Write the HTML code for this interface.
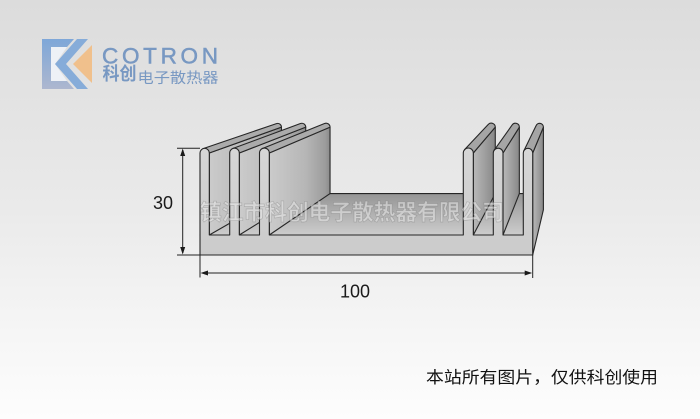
<!DOCTYPE html>
<html>
<head>
<meta charset="utf-8">
<style>
  html, body { margin:0; padding:0; width:700px; height:419px; overflow:hidden; background:#ececec; }
  svg { display:block; }
</style>
</head>
<body>
<svg width="700" height="419" viewBox="0 0 700 419" xmlns="http://www.w3.org/2000/svg">
  <defs>
    <linearGradient id="bg" x1="0" y1="0" x2="0" y2="1">
      <stop offset="0" stop-color="#dcdcdc"/>
      <stop offset="0.5" stop-color="#eaeaea"/>
      <stop offset="0.8" stop-color="#f6f6f6"/>
      <stop offset="1" stop-color="#fdfdfd"/>
    </linearGradient>
    <linearGradient id="floor" x1="0" y1="0" x2="0" y2="1">
      <stop offset="0" stop-color="#959595"/>
      <stop offset="1" stop-color="#cdcdcd"/>
    </linearGradient>
    <linearGradient id="gL" x1="0" y1="0" x2="1" y2="0">
      <stop offset="0" stop-color="#cbcbcb"/>
      <stop offset="0.6" stop-color="#b6b6b6"/>
      <stop offset="0.92" stop-color="#9c9c9c"/>
      <stop offset="1" stop-color="#8a8a8a"/>
    </linearGradient>
    <linearGradient id="gR" x1="0" y1="0" x2="1" y2="0">
      <stop offset="0" stop-color="#b9b9b9"/>
      <stop offset="1" stop-color="#878787"/>
    </linearGradient>
    <linearGradient id="front" x1="0" y1="0" x2="0" y2="1">
      <stop offset="0" stop-color="#d6d6d6"/>
      <stop offset="1" stop-color="#cbcbcb"/>
    </linearGradient>
    <linearGradient id="logoFrame" x1="0" y1="0" x2="0" y2="1">
      <stop offset="0" stop-color="#7ea7d8"/>
      <stop offset="1" stop-color="#adb7cf"/>
    </linearGradient>
  </defs>

  <rect x="0" y="0" width="700" height="419" fill="url(#bg)"/>

  <!-- Logo icon -->
  <path d="M42,39 H74 L67,47 H51 V81 H67 L74,89 H42 Z" fill="url(#logoFrame)"/>
  <path d="M51,47 H67 L55,64 L67,81 H51 Z" fill="#eef1f6"/>
  <path d="M77,39 L88,39 L66,64 L88,89 L77,89 L55,64 Z" fill="#86acd9"/>
  <path d="M92,45 L73,64 L92,83 Z" fill="#f0c08c"/>

  <!-- Logo text -->
  <text x="102" y="63.3" font-family="Liberation Sans, sans-serif" font-size="22.5" fill="#7898c2" stroke="#7898c2" stroke-width="0.5" textLength="116" lengthAdjust="spacing">COTRON</text>
  <text x="102.5" y="80" font-family="Liberation Sans, 'Noto Sans CJK SC', sans-serif" font-size="18" font-weight="bold" fill="#7898c2" textLength="34" lengthAdjust="spacingAndGlyphs">科创</text>
  <text x="137.5" y="83" font-family="Liberation Sans, 'Noto Sans CJK SC', sans-serif" font-size="14.5" fill="#7898c2" textLength="81" lengthAdjust="spacingAndGlyphs">电子散热器</text>

  <!-- Heatsink -->
  <g stroke="#262626" stroke-width="1.1" stroke-linejoin="round">
    <path d="M200,235 L532.7,235 L543.4,193.58 L273.91,193.58 Z" fill="url(#floor)"/>

    <path d="M209.3,153 L281.44,127.16 L281.44,193.58 L209.3,235 Z" fill="url(#gL)"/>
    <path d="M203.1,148.62 L276.42,123.61 A3.77,3.77 0 0 1 281.44,127.16 L209.3,153 L204.65,153 Z" fill="#ababab"/>
    <path d="M239.3,153 L305.74,127.16 L305.74,193.58 L239.3,235 Z" fill="url(#gL)"/>
    <path d="M232.78,148.52 L300.46,123.53 A3.89,3.89 0 0 1 305.74,127.16 L239.3,153 L234.5,153 Z" fill="#ababab"/>
    <path d="M269.3,153 L330.04,127.16 L330.04,193.58 L269.3,235 Z" fill="url(#gL)"/>
    <path d="M262.51,148.48 L324.54,123.5 A3.97,3.97 0 0 1 330.04,127.16 L269.3,153 L264.4,153 Z" fill="#ababab"/>
    <path d="M473.3,153 L495.28,127.16 L495.28,193.58 L473.3,235 Z" fill="url(#gR)"/>
    <path d="M464.56,149.68 L488.2,124.47 A4.05,4.05 0 0 1 495.28,127.16 L473.3,153 L468.3,153 Z" fill="#a5a5a5"/>
    <path d="M503,153 L519.34,127.16 L519.34,193.58 L503,235 Z" fill="url(#gR)"/>
    <path d="M494.12,150.31 L512.14,124.98 A3.93,3.93 0 0 1 519.34,127.16 L503,153 L498.15,153 Z" fill="#a5a5a5"/>
    <path d="M532.7,153 L543.4,127.16 L543.4,209.78 L532.7,255 Z" fill="url(#gR)"/>
    <path d="M523.71,151.08 L536.11,125.6 A3.81,3.81 0 0 1 543.4,127.16 L532.7,153 L528,153 Z" fill="#a5a5a5"/>

    <path d="M200,255 L200,153 A4.65,4.65 0 0 1 209.3,153 L209.3,235 L229.7,235 L229.7,153 A4.8,4.8 0 0 1 239.3,153 L239.3,235 L259.5,235 L259.5,153 A4.9,4.9 0 0 1 269.3,153 L269.3,235 L463.3,235 L463.3,153 A5,5 0 0 1 473.3,153 L473.3,235 L493.3,235 L493.3,153 A4.85,4.85 0 0 1 503,153 L503,235 L523.3,235 L523.3,153 A4.7,4.7 0 0 1 532.7,153 L532.7,255 Z" fill="url(#front)"/>
  </g>

  <!-- Watermark -->
  <text x="200" y="220" font-family="Liberation Sans, 'Noto Sans CJK SC', sans-serif" font-size="22" font-weight="bold" fill="rgba(232,232,232,0.55)" stroke="rgba(110,110,110,0.35)" stroke-width="0.7" textLength="304" lengthAdjust="spacingAndGlyphs">镇江市科创电子散热器有限公司</text>

  <!-- Dimension lines -->
  <g stroke="#222" stroke-width="1" fill="none">
    <line x1="177" y1="148.3" x2="200" y2="148.3"/>
    <line x1="177" y1="255" x2="200" y2="255"/>
    <line x1="182.7" y1="150" x2="182.7" y2="253"/>
    <line x1="200" y1="255" x2="200" y2="277.5"/>
    <line x1="532.7" y1="255" x2="532.7" y2="278"/>
    <line x1="202" y1="273" x2="531" y2="273"/>
  </g>
  <g fill="#1a1a1a">
    <polygon points="182.7,148.5 180.2,156 185.2,156"/>
    <polygon points="182.7,254.5 180.2,247 185.2,247"/>
    <polygon points="200.5,273 208,270.5 208,275.5"/>
    <polygon points="532.2,273 524.7,270.5 524.7,275.5"/>
  </g>

  <text x="153" y="209" font-family="Liberation Sans, sans-serif" font-size="18" fill="#1a1a1a">30</text>
  <text x="340" y="297.5" font-family="Liberation Sans, sans-serif" font-size="18" fill="#1a1a1a">100</text>

  <text x="426" y="383" font-family="Liberation Sans, 'Noto Sans CJK SC', sans-serif" font-size="16.5" fill="#111" textLength="232" lengthAdjust="spacingAndGlyphs">本站所有图片，仅供科创使用</text>
</svg>
</body>
</html>
